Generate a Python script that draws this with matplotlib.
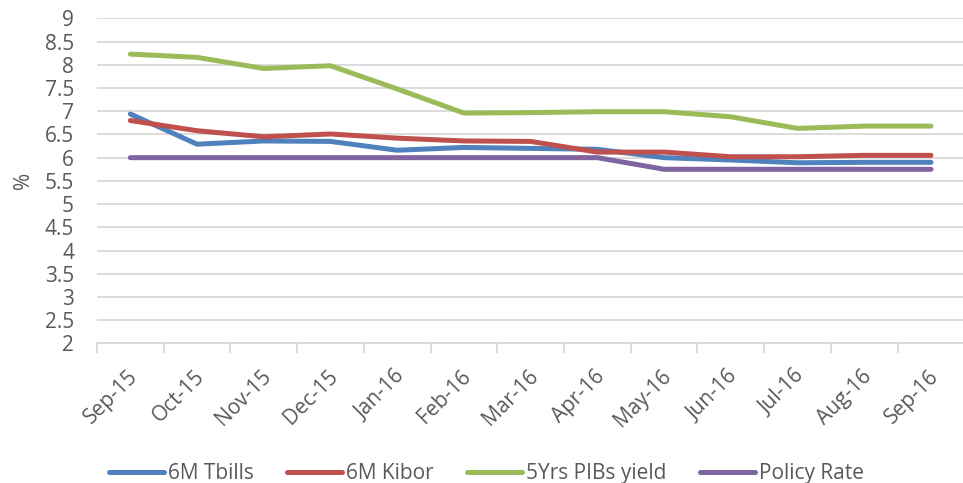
import matplotlib.pyplot as plt
from matplotlib.ticker import MultipleLocator, FixedLocator, NullFormatter
from matplotlib.transforms import ScaledTranslation

plt.rcParams['font.family'] = ['Open Sans', 'DejaVu Sans']

months = ['Sep-15', 'Oct-15', 'Nov-15', 'Dec-15', 'Jan-16', 'Feb-16', 'Mar-16',
          'Apr-16', 'May-16', 'Jun-16', 'Jul-16', 'Aug-16', 'Sep-16']
tbills = [6.94, 6.29, 6.36, 6.35, 6.16, 6.22, 6.20, 6.18, 6.00, 5.95, 5.89, 5.90, 5.90]
kibor = [6.80, 6.58, 6.45, 6.51, 6.42, 6.36, 6.35, 6.12, 6.12, 6.02, 6.02, 6.05, 6.05]
pibs = [8.23, 8.16, 7.92, 7.98, 7.48, 6.96, 6.97, 6.99, 6.99, 6.88, 6.63, 6.68, 6.68]
policy = [6.0, 6.0, 6.0, 6.0, 6.0, 6.0, 6.0, 6.0, 5.75, 5.75, 5.75, 5.75, 5.75]

series = [
    ('6M Tbills', tbills, '#4F81BD'),
    ('6M Kibor', kibor, '#C0504D'),
    ('5Yrs PIBs yield', pibs, '#9BBB59'),
    ('Policy Rate', policy, '#8064A2'),
]

fig = plt.figure(figsize=(9.63, 4.83), dpi=100)
ax = fig.add_axes([0.1007, 0.289, 0.8993, 0.673])

x = list(range(len(months)))
for name, vals, col in series:
    ax.plot(x, vals, color=col, lw=3.6, label=name, solid_capstyle='round',
            solid_joinstyle='round')

ax.set_ylim(2, 9)
ax.set_xlim(-0.5, 12.48)
ax.yaxis.set_major_locator(MultipleLocator(0.5))
ax.set_yticklabels([f'{v:g}' for v in ax.get_yticks()])
ax.grid(axis='y', color='#D9D9D9', lw=1.3)
ax.set_axisbelow(True)

for s in ['top', 'right', 'left']:
    ax.spines[s].set_visible(False)
ax.spines['bottom'].set_color('#D9D9D9')
ax.spines['bottom'].set_linewidth(1.3)

# category labels drawn as texts so they can be nudged like Excel places them
ax.set_xticks(x)
ax.xaxis.set_major_formatter(NullFormatter())
lab_tr = ax.get_xaxis_transform() + ScaledTranslation(3 / 72, -21.5 / 72, fig.dpi_scale_trans)
for i, m in enumerate(months):
    ax.text(i, 0, m, transform=lab_tr, rotation=45, ha='right', va='center',
            rotation_mode='anchor', fontsize=15, color='#595959', clip_on=False)

ax.xaxis.set_minor_locator(FixedLocator([i - 0.5 for i in range(len(months) + 1)]))
ax.tick_params(axis='x', which='major', length=0)
ax.tick_params(axis='x', which='minor', length=7, width=1.3, color='#D9D9D9')
ax.tick_params(axis='y', length=0, pad=16.5, labelsize=15, labelcolor='#595959')

ax.set_ylabel('%', fontsize=15, color='#595959', labelpad=8)

fig.legend(loc='center', bbox_to_anchor=(0.505, 0.02), ncol=4, frameon=False,
           fontsize=15, labelcolor='#595959', handlelength=2.64,
           handletextpad=0.2, columnspacing=1.6)

fig.savefig('out.png', dpi=100)
